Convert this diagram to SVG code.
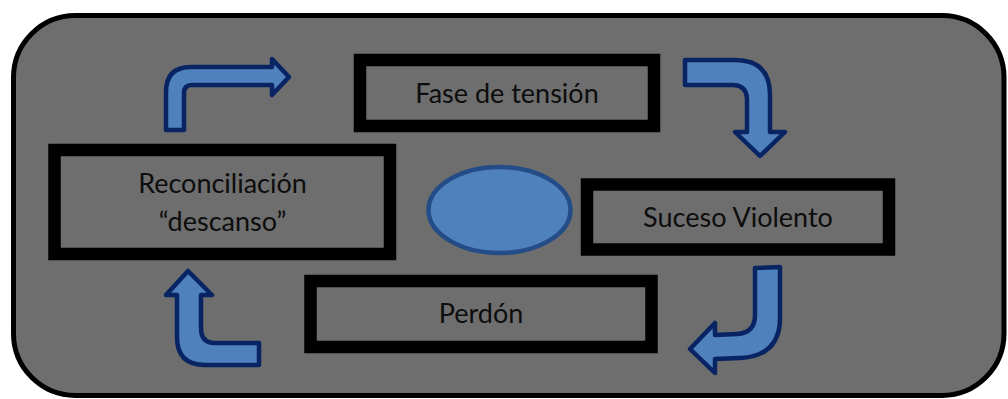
<svg xmlns="http://www.w3.org/2000/svg" width="1008" height="399" viewBox="0 0 1008 399">
<style>
.box{fill:#6e6e6e;stroke:#000;stroke-width:12.5}
.lbl{font-family:Lato,"Open Sans",sans-serif;font-size:27px;fill:#0d0d0d;text-anchor:middle}
.arr{fill:#4f81bd;stroke:#082462;stroke-width:4.5;stroke-linejoin:round}
</style>
<rect width="1008" height="399" fill="#fff"/>
<rect id="frame" x="13.5" y="15.5" width="990.5" height="380" rx="62" ry="62" fill="#6e6e6e" stroke="#000" stroke-width="5"/>
<g id="connectors">
<path class="arr" d="M166,130 L166,92 Q166,67 191,67 L272,67 L272,59 L289,77 L272,95 L272,85 L192,85 Q184,85 184,93 L184,130 Z"/>
<path class="arr" d="M685,60 L735,60 Q770,60 770,95 L770,132 L785,132 L760,156 L735,132 L747,132 L747,100 Q747,85 732,85 L685,85 Z"/>
<path class="arr" d="M755,268 L780,267 L780,318 Q780,356 740,358 L715,359 L715,373 L690,349 L715,323 L715,335 L737,334 Q755,333 755,315 Z"/>
<path class="arr" d="M188,271 L212,295 L201,295 L201,328 Q201,343 215,343 L259,343 L259,365 L205,365 Q177,365 177,337 L177,295 L166,295 Z"/>
</g>
<g id="center">
<ellipse cx="499.5" cy="210" rx="71" ry="43" fill="#4f81bd" stroke="#244c86" stroke-width="4.5"/>
</g>
<g id="fase">
<rect class="box" x="360" y="60" width="294" height="66"/>
<text class="lbl" x="507" y="103">Fase de tensión</text>
</g>
<g id="reconciliacion">
<rect class="box" x="54.5" y="150" width="335.5" height="104"/>
<text class="lbl" x="222.5" y="193">Reconciliación</text>
<text class="lbl" x="222.5" y="231">“descanso”</text>
</g>
<g id="suceso">
<rect class="box" x="587" y="184.5" width="302" height="65"/>
<text class="lbl" x="738" y="227">Suceso Violento</text>
</g>
<g id="perdon">
<rect class="box" x="310.5" y="281" width="341" height="66"/>
<text class="lbl" x="481" y="323">Perdón</text>
</g>
</svg>
